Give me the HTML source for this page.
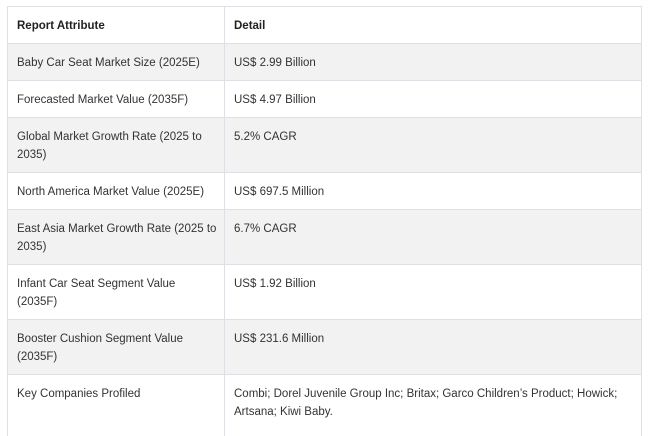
<!DOCTYPE html>
<html><head><meta charset="utf-8"><style>
html,body{margin:0;padding:0;background:#fff;width:649px;height:427px;overflow:hidden}
.r{position:absolute;left:7px;width:635px;border-top:1px solid #dfdfe5;box-sizing:border-box;font-family:"Liberation Sans",sans-serif;font-size:11.5px;color:#333;line-height:18px}
.r.g{background:#f2f2f2}
.c{position:absolute;top:10px}
.a{left:10px;width:200px}
.b{left:227px;width:400px}
.h{font-weight:bold;color:#222}
#vl{position:absolute;left:7px;top:6px;width:635px;height:430px;border-left:1px solid #dfdfe5;border-right:1px solid #dfdfe5;box-sizing:border-box;pointer-events:none}
#vd{position:absolute;left:224px;top:6px;width:1px;height:430px;background:#dfdfe5}
</style></head><body>
<div>
<div class="r" style="top:6px;height:37px"><div class="c a h">Report Attribute</div><div class="c b h">Detail</div></div>
<div class="r g" style="top:43px;height:37px"><div class="c a">Baby Car Seat Market Size (2025E)</div><div class="c b">US$ 2.99 Billion</div></div>
<div class="r" style="top:80px;height:37px"><div class="c a">Forecasted Market Value (2035F)</div><div class="c b">US$ 4.97 Billion</div></div>
<div class="r g" style="top:117px;height:55px"><div class="c a">Global Market Growth Rate (2025 to 2035)</div><div class="c b">5.2% CAGR</div></div>
<div class="r" style="top:172px;height:37px"><div class="c a">North America Market Value (2025E)</div><div class="c b">US$ 697.5 Million</div></div>
<div class="r g" style="top:209px;height:55px"><div class="c a">East Asia Market Growth Rate (2025 to 2035)</div><div class="c b">6.7% CAGR</div></div>
<div class="r" style="top:264px;height:55px"><div class="c a">Infant Car Seat Segment Value (2035F)</div><div class="c b">US$ 1.92 Billion</div></div>
<div class="r g" style="top:319px;height:55px"><div class="c a">Booster Cushion Segment Value (2035F)</div><div class="c b">US$ 231.6 Million</div></div>
<div class="r" style="top:374px;height:60px"><div class="c a">Key Companies Profiled</div><div class="c b">Combi; Dorel Juvenile Group Inc; Britax; Garco Children’s Product; Howick; Artsana; Kiwi Baby.</div></div>
<div id="vl"></div><div id="vd"></div>
</div>
</body></html>
